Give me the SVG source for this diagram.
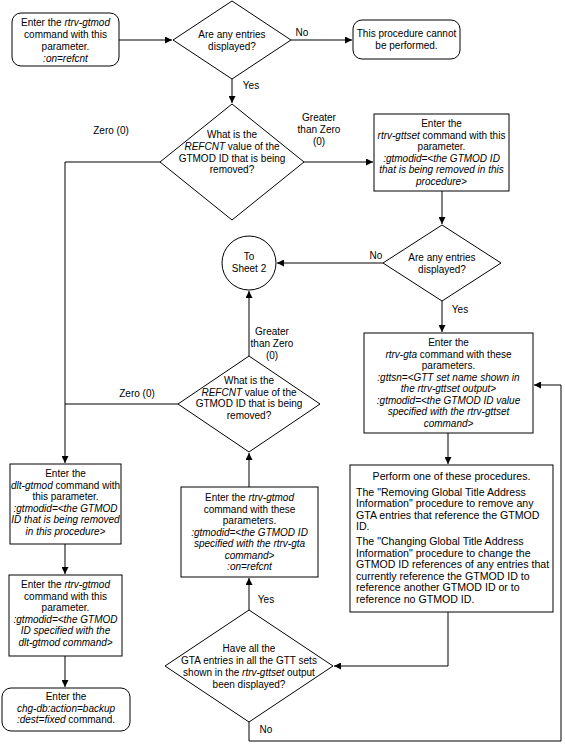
<svg xmlns="http://www.w3.org/2000/svg" width="565" height="746" viewBox="0 0 565 746">
<style>
text{font-family:"Liberation Sans",Arial,sans-serif;font-size:10px;fill:#000;text-anchor:middle}
.l{text-anchor:start}
.i{font-style:italic}
.p{font-size:10.6px}
.s{fill:#fff;stroke:#000;stroke-width:1}
.c{fill:none;stroke:#000;stroke-width:1}
</style>
<defs>
<marker id="a" viewBox="0 0 10 10" refX="10" refY="5" markerWidth="7" markerHeight="7" orient="auto" markerUnits="userSpaceOnUse">
<path d="M0,0 L10,5 L0,10 z" fill="#000"/>
</marker>
</defs>
<rect width="565" height="746" fill="#fff"/>

<g id="connectors">
<path class="c" d="M119,40 H172" marker-end="url(#a)"/>
<path class="c" d="M291,40 H352" marker-end="url(#a)"/>
<path class="c" d="M232,79 V103" marker-end="url(#a)"/>
<path class="c" d="M304,162 H373" marker-end="url(#a)"/>
<path class="c" d="M160,162 H65 V463" marker-end="url(#a)"/>
<path class="c" d="M442,191 V224" marker-end="url(#a)"/>
<path class="c" d="M383,263 H277" marker-end="url(#a)"/>
<path class="c" d="M442,301 V332" marker-end="url(#a)"/>
<path class="c" d="M448,433 V464" marker-end="url(#a)"/>
<path class="c" d="M448,612 V666 H334" marker-end="url(#a)"/>
<path class="c" d="M249,722 V741 H561 V385 H534" marker-end="url(#a)"/>
<path class="c" d="M249,610 V578" marker-end="url(#a)"/>
<path class="c" d="M249,487 V453" marker-end="url(#a)"/>
<path class="c" d="M249,356 V291" marker-end="url(#a)"/>
<path class="c" d="M178,404 H65"/>
<path class="c" d="M65,544 V574" marker-end="url(#a)"/>
<path class="c" d="M65,656 V687" marker-end="url(#a)"/>
<text x="302" y="36">No</text>
<text x="251" y="89">Yes</text>
<text x="111" y="134">Zero (0)</text>
<text x="319" y="121">Greater</text>
<text x="319" y="133">than Zero</text>
<text x="319" y="145">(0)</text>
<text x="376" y="259">No</text>
<text x="460" y="313">Yes</text>
<text x="272" y="335">Greater</text>
<text x="272" y="347">than Zero</text>
<text x="272" y="359">(0)</text>
<text x="137" y="397">Zero (0)</text>
<text x="266" y="603">Yes</text>
<text x="266" y="733">No</text>
</g>

<g id="start">
<rect class="s" x="12" y="13" width="107" height="53" rx="9"/>
<text x="65.5" y="26">Enter the <tspan class="i">rtrv-gtmod</tspan></text>
<text x="65.5" y="38">command with this</text>
<text x="65.5" y="50">parameter.</text>
<text x="65.5" y="62" class="i">:on=refcnt</text>
</g>

<g id="dec1">
<polygon class="s" points="232,1 291,40 232,79 173,40"/>
<text x="232" y="38">Are any entries</text>
<text x="232" y="50">displayed?</text>
</g>

<g id="cannot">
<rect class="s" x="353" y="20" width="107" height="39" rx="9"/>
<text x="406.5" y="37">This procedure cannot</text>
<text x="406.5" y="49">be performed.</text>
</g>

<g id="dec2">
<polygon class="s" points="232,104 304,162 232,220 160,162"/>
<text x="232" y="138">What is the</text>
<text x="232" y="150"><tspan class="i">REFCNT</tspan> value of the</text>
<text x="232" y="161.5">GTMOD ID that is being</text>
<text x="232" y="173">removed?</text>
</g>

<g id="gttset">
<rect class="s" x="374" y="114" width="135" height="77"/>
<text x="441.5" y="127">Enter the</text>
<text x="441.5" y="138.5"><tspan class="i">rtrv-gttset</tspan> command with this</text>
<text x="441.5" y="150">parameter.</text>
<text x="441.5" y="161.5" class="i">:gtmodid=&lt;the GTMOD ID</text>
<text x="441.5" y="173" class="i">that is being removed in this</text>
<text x="441.5" y="184.5" class="i">procedure&gt;</text>
</g>

<g id="dec3">
<polygon class="s" points="442,225 501,263 442,301 383,263"/>
<text x="442" y="261">Are any entries</text>
<text x="442" y="273">displayed?</text>
</g>

<g id="sheet2">
<circle class="s" cx="249" cy="263" r="27"/>
<text x="249" y="260">To</text>
<text x="249" y="272">Sheet 2</text>
</g>

<g id="gta">
<rect class="s" x="364" y="333" width="169" height="100"/>
<text x="448.5" y="346">Enter the</text>
<text x="448.5" y="357.5"><tspan class="i">rtrv-gta</tspan> command with these</text>
<text x="448.5" y="369">parameters.</text>
<text x="448.5" y="380.5" class="i">:gttsn=&lt;GTT set name shown in</text>
<text x="448.5" y="392" class="i">the rtrv-gttset output&gt;</text>
<text x="448.5" y="403.5" class="i">:gtmodid=&lt;the GTMOD ID value</text>
<text x="448.5" y="415" class="i">specified with the rtrv-gttset</text>
<text x="448.5" y="426.5" class="i">command&gt;</text>
</g>

<g id="perform">
<rect class="s" x="350" y="465" width="203" height="147"/>
<text x="451.5" y="480" class="p">Perform one of these procedures.</text>
<text x="356" y="495.5" class="l p">The "Removing Global Title Address</text>
<text x="356" y="507" class="l p">Information" procedure to remove any</text>
<text x="356" y="518.5" class="l p">GTA entries that reference the GTMOD</text>
<text x="356" y="530" class="l p">ID.</text>
<text x="356" y="545" class="l p">The "Changing Global Title Address</text>
<text x="356" y="556.5" class="l p">Information" procedure to change the</text>
<text x="356" y="568" class="l p">GTMOD ID references of any entries that</text>
<text x="356" y="579.5" class="l p">currently reference the GTMOD ID to</text>
<text x="356" y="591" class="l p">reference another GTMOD ID or to</text>
<text x="356" y="602.5" class="l p">reference no GTMOD ID.</text>
</g>

<g id="dec5">
<polygon class="s" points="249,610 333,666 249,722 165,666"/>
<text x="249" y="652">Have all the</text>
<text x="249" y="664">GTA entries in all the GTT sets</text>
<text x="249" y="676">shown in the <tspan class="i">rtrv-gttset</tspan> output</text>
<text x="249" y="688">been displayed?</text>
</g>

<g id="gtmod2">
<rect class="s" x="181" y="487" width="137" height="90"/>
<text x="249.5" y="501">Enter the <tspan class="i">rtrv-gtmod</tspan></text>
<text x="249.5" y="512.5">command with these</text>
<text x="249.5" y="524">parameters.</text>
<text x="249.5" y="535.5" class="i">:gtmodid=&lt;the GTMOD ID</text>
<text x="249.5" y="547" class="i">specified with the rtrv-gta</text>
<text x="249.5" y="558.5" class="i">command&gt;</text>
<text x="249.5" y="570" class="i">:on=refcnt</text>
</g>

<g id="dec4">
<polygon class="s" points="249,356 320,404 249,452 178,404"/>
<text x="249" y="384">What is the</text>
<text x="249" y="395.5"><tspan class="i">REFCNT</tspan> value of the</text>
<text x="249" y="407">GTMOD ID that is being</text>
<text x="249" y="418.5">removed?</text>
</g>

<g id="dlt">
<rect class="s" x="10" y="464" width="111" height="80"/>
<text x="65.5" y="477">Enter the</text>
<text x="65.5" y="488.5"><tspan class="i">dlt-gtmod</tspan> command with</text>
<text x="65.5" y="500">this parameter.</text>
<text x="65.5" y="511.5" class="i">:gtmodid=&lt;the GTMOD</text>
<text x="65.5" y="523" class="i">ID that is being removed</text>
<text x="65.5" y="534.5" class="i">in this procedure&gt;</text>
</g>

<g id="gtmod3">
<rect class="s" x="9" y="575" width="113" height="81"/>
<text x="65.5" y="588">Enter the <tspan class="i">rtrv-gtmod</tspan></text>
<text x="65.5" y="599.5">command with this</text>
<text x="65.5" y="611">parameter.</text>
<text x="65.5" y="622.5" class="i">:gtmodid=&lt;the GTMOD</text>
<text x="65.5" y="634" class="i">ID specified with the</text>
<text x="65.5" y="645.5" class="i">dlt-gtmod command&gt;</text>
</g>

<g id="chgdb">
<rect class="s" x="2" y="688" width="128" height="43" rx="9"/>
<text x="66" y="700">Enter the</text>
<text x="66" y="711.5" class="i">chg-db:action=backup</text>
<text x="66" y="723"><tspan class="i">:dest=fixed</tspan> command.</text>
</g>
</svg>
